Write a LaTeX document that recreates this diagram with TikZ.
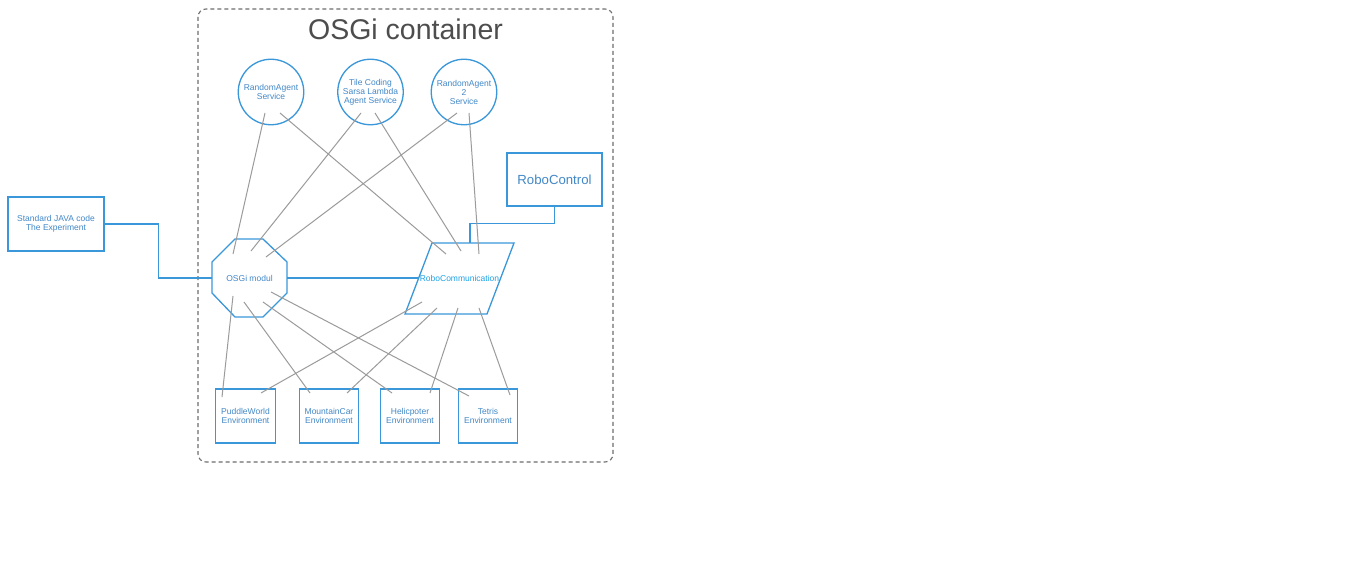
\documentclass[tikz,border=0pt]{standalone}
\usepackage{fontspec}
\setmainfont{Liberation Sans}
\usetikzlibrary{calc}
\definecolor{shapeblue}{RGB}{58,152,218}
\definecolor{textblue}{RGB}{66,136,200}
\definecolor{cyantext}{RGB}{30,162,230}
\definecolor{linkgray}{RGB}{155,155,155}
\definecolor{dashgray}{RGB}{110,110,110}
\definecolor{titlegray}{RGB}{77,77,77}
\begin{document}
\begin{tikzpicture}[x=1pt,y=-1pt,
  smallfont/.style={font=\fontsize{8.5}{9}\selectfont},
  agent/.style={circle,draw=shapeblue,line width=1.3pt,minimum size=65.5pt,inner sep=0pt,align=center,text=textblue,smallfont},
  envbox/.style={rectangle,draw=shapeblue,line width=1.3pt,minimum width=59.5pt,minimum height=54pt,inner sep=0pt,align=center,text=textblue,smallfont},
  lbl/.style={inner sep=0pt,align=center,text=textblue,smallfont},
  shapeline/.style={draw=shapeblue,line width=1.3pt,line join=miter},
  blueconn/.style={draw=shapeblue,line width=1.3pt},
  link/.style={draw=linkgray,line width=1pt},
  container/.style={draw=dashgray,line width=1.1pt,dash pattern=on 4pt off 3pt,rounded corners=8pt}
]
\useasboundingbox (0,0) rectangle (1354,567);
\fill[white] (0,0) rectangle (1354,567);

% container
\draw[container] (198,9) rectangle (613,462);
\node[text=titlegray,font=\fontsize{28.5}{30}\selectfont,inner sep=0pt] (title) at (405.5,29) {OSGi container};

% agent services
\node[agent] (ra1) at (271,92) {RandomAgent\\Service};
\node[agent] (tc) at (370.5,92) {Tile Coding\\Sarsa Lambda\\Agent Service};
\node[agent] (ra2) at (464,92) {RandomAgent\\2\\Service};

% RoboControl
\node[rectangle,draw=shapeblue,line width=1.3pt,minimum width=95pt,minimum height=53pt,inner sep=0pt,text=textblue,font=\fontsize{13.2}{15}\selectfont] (rc) at (554.5,179.5) {RoboControl};

% Standard JAVA code
\node[rectangle,draw=shapeblue,line width=1.3pt,minimum width=96pt,minimum height=54pt,inner sep=0pt,align=center,text=textblue,smallfont] (java) at (56,224) {Standard JAVA code\\The Experiment};

% OSGi modul octagon
\draw[shapeline] (235,239) -- (263,239) -- (287,262) -- (287,293) -- (263,317) -- (235,317) -- (212,293) -- (212,262) -- cycle;
\node[lbl] (oct) at (249.5,278) {OSGi modul};
\coordinate (oct-w) at (212,278);
\coordinate (oct-e) at (287,278);

% RoboCommunication parallelogram
\draw[shapeline] (432,243) -- (514,243) -- (487,314) -- (405,314) -- cycle;
\node[inner sep=0pt,text=cyantext,smallfont] (pg) at (459.5,278.5) {RoboCommunication};
\coordinate (pg-w) at (418.5,278);
\coordinate (pg-n) at (470,243);

% environments
\node[envbox] (pw) at (245.5,416) {PuddleWorld\\Environment};
\node[envbox] (mc) at (329,416) {MountainCar\\Environment};
\node[envbox] (he) at (410,416) {Helicpoter\\Environment};
\node[envbox] (te) at (488,416) {Tetris\\Environment};

% blue connectors
\draw[blueconn] (java.east) -- ++(54,0) |- (oct-w);
\draw[blueconn] (oct-e) -- (pg-w);
\draw[blueconn] (rc.south) -- ++(0,17) -| (pg-n);

% gray links top
\draw[link] ($(ra1)+(-6,21)$) -- ($(oct)+(-16.5,-24)$);
\draw[link] ($(ra1)+(9,21)$) -- ($(pg)+(-13.5,-24.5)$);
\draw[link] ($(tc)+(-9.5,21)$) -- ($(oct)+(1.5,-27)$);
\draw[link] ($(tc)+(4.5,21)$) -- ($(pg)+(1.5,-27.5)$);
\draw[link] ($(ra2)+(-7,21)$) -- ($(oct)+(16.5,-21)$);
\draw[link] ($(ra2)+(5,21)$) -- ($(pg)+(19.5,-24.5)$);

% gray links bottom
\draw[link] ($(oct)+(-16.5,18)$) -- ($(pw)+(-23.5,-19)$);
\draw[link] ($(oct)+(-5.5,24)$) -- ($(mc)+(-19,-23)$);
\draw[link] ($(oct)+(13.5,24)$) -- ($(he)+(-18,-23)$);
\draw[link] ($(oct)+(21.5,14)$) -- ($(te)+(-19,-20)$);
\draw[link] ($(pg)+(-37.5,23.5)$) -- ($(pw)+(15.5,-23)$);
\draw[link] ($(pg)+(-22.5,29.5)$) -- ($(mc)+(18,-23)$);
\draw[link] ($(pg)+(-1.5,29.5)$) -- ($(he)+(20,-23)$);
\draw[link] ($(pg)+(19.5,29.5)$) -- ($(te)+(22,-21)$);
\end{tikzpicture}
\end{document}
